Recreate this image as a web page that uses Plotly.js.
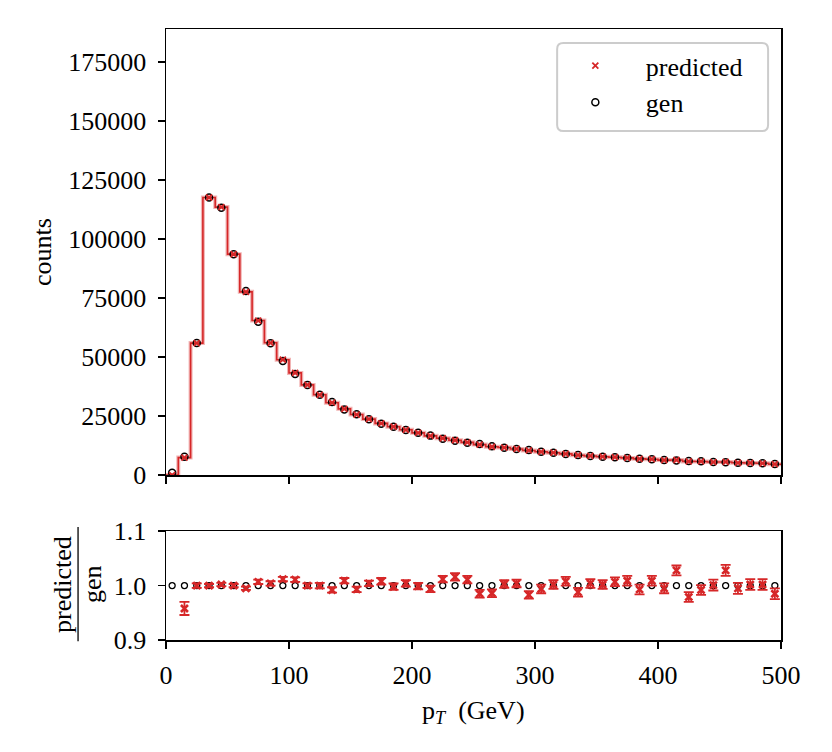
<!doctype html>
<html lang="en">
<head>
    <meta charset="UTF-8">
    <title>pT predicted vs gen</title>
    <script src="https://cdn.plot.ly/plotly-3.0.1.min.js"></script>
    <style>
        body { margin: 0; background: white; }
        #chart { width: 832px; height: 752px; }
    </style>
</head>
<body>
    <div id="chart"></div>
    <script>
        // bin layout: 10 GeV bins from 0 to 500
        var binWidth = 10;
        var nBins = 50;

        // gen counts per bin
        var gen = [1000, 7700, 55900, 117600, 113300, 93600, 78000, 65000, 55800, 48300,
                   42800, 38200, 34000, 30900, 27800, 25800, 23600, 21700, 20500, 19100,
                   17900, 16700, 15400, 14500, 13700, 13100, 12150, 11600, 11000, 10600,
                   9900, 9450, 8900, 8500, 8050, 7750, 7500, 7200, 6900, 6650,
                   6350, 6200, 5900, 5800, 5500, 5400, 5200, 5100, 4950, 4650];

        // predicted / gen per bin (first bin is off the scale)
        var ratio = [null, 0.958, 1.000, 1.000, 1.002, 1.000, 0.995, 1.007, 1.004, 1.012,
                     1.011, 1.000, 1.000, 0.992, 1.009, 0.993, 1.004, 1.008, 0.998, 1.004,
                     0.999, 0.994, 1.012, 1.016, 1.011, 0.985, 0.986, 1.003, 1.004, 0.983,
                     0.994, 1.002, 1.008, 0.988, 1.004, 1.002, 1.007, 1.009, 0.993, 1.009,
                     0.995, 1.028, 0.979, 0.992, 1.001, 1.028, 0.995, 1.002, 1.002, 0.985];

        var ratioErr = [0, 0.012, 0.004, 0.003, 0.003, 0.003, 0.003, 0.004, 0.004, 0.004,
                        0.004, 0.004, 0.005, 0.005, 0.005, 0.005, 0.005, 0.006, 0.006, 0.006,
                        0.006, 0.006, 0.006, 0.007, 0.007, 0.007, 0.007, 0.007, 0.007, 0.007,
                        0.008, 0.008, 0.008, 0.008, 0.008, 0.008, 0.008, 0.009, 0.009, 0.009,
                        0.009, 0.009, 0.009, 0.009, 0.010, 0.010, 0.010, 0.010, 0.010, 0.010];

        var red = '#d62728';
        var font = 'Liberation Serif, Times New Roman, serif';

        // centres and edges
        var centers = [], edges = [];
        for (var i = 0; i < nBins; i++) centers.push(i * binWidth + binWidth / 2);
        for (var i = 0; i <= nBins; i++) edges.push(i * binWidth);

        // predicted counts from gen and ratio
        var predicted = gen.map(function (g, i) { return ratio[i] === null ? 0 : g * ratio[i]; });
        var stepY = predicted.concat([predicted[nBins - 1]]);

        var traces = [
            {
                x: edges, y: stepY, type: 'scatter', mode: 'lines',
                line: { shape: 'hv', color: 'rgba(214,39,40,0.35)', width: 4 },
                xaxis: 'x', yaxis: 'y', showlegend: false, hoverinfo: 'skip'
            },
            {
                x: edges, y: stepY, type: 'scatter', mode: 'lines',
                line: { shape: 'hv', color: red, width: 1.6 },
                xaxis: 'x', yaxis: 'y', showlegend: false, hoverinfo: 'skip'
            },
            {
                x: centers, y: gen, type: 'scatter', mode: 'markers', name: 'gen',
                marker: { symbol: 'circle-open', size: 7, color: 'black', line: { width: 1.5 } },
                xaxis: 'x', yaxis: 'y', legendrank: 2
            },
            {
                x: centers, y: predicted, type: 'scatter', mode: 'markers', name: 'predicted',
                marker: { symbol: 'x-thin-open', size: 6, color: red, line: { width: 1.8, color: red } },
                xaxis: 'x', yaxis: 'y', legendrank: 1
            },
            {
                x: centers, y: gen.map(function () { return 1; }), type: 'scatter', mode: 'markers',
                marker: { symbol: 'circle-open', size: 6, color: 'black', line: { width: 1.3 } },
                xaxis: 'x2', yaxis: 'y2', showlegend: false
            },
            {
                x: centers, y: ratio, type: 'scatter', mode: 'markers',
                marker: { symbol: 'x-thin-open', size: 7, color: red, line: { width: 2.6, color: red } },
                error_y: { type: 'data', array: ratioErr, visible: true, color: red, thickness: 1.8, width: 5 },
                xaxis: 'x2', yaxis: 'y2', showlegend: false
            }
        ];

        var axisCommon = {
            showline: true, linecolor: 'black', linewidth: 1.5, mirror: true,
            ticks: 'outside', ticklen: 7, tickwidth: 1.5, tickcolor: 'black',
            showgrid: false, zeroline: false,
            tickfont: { family: font, size: 26, color: 'black' }
        };

        var layout = {
            width: 832, height: 752,
            margin: { l: 166, r: 51, t: 29, b: 112 },
            paper_bgcolor: 'white', plot_bgcolor: 'white',
            font: { family: font, size: 26, color: 'black' },
            xaxis: Object.assign({}, axisCommon, {
                range: [0, 500], dtick: 100, showticklabels: false, anchor: 'y'
            }),
            yaxis: Object.assign({}, axisCommon, {
                domain: [0.27, 1], range: [0, 189000], dtick: 25000, tickformat: 'd',
                ticklabelstandoff: 6, anchor: 'x'
            }),
            xaxis2: Object.assign({}, axisCommon, {
                range: [0, 500], dtick: 100, anchor: 'y2', ticklabelstandoff: 4
            }),
            yaxis2: Object.assign({}, axisCommon, {
                domain: [0, 0.178], range: [0.9, 1.1], tickvals: [0.9, 1.0, 1.1], tickformat: '.1f',
                ticklabelstandoff: 6, anchor: 'x2'
            }),
            showlegend: true,
            legend: {
                x: 0.616, y: 0.9785, xanchor: 'left', yanchor: 'top',
                bgcolor: 'rgba(0,0,0,0)', borderwidth: 0,
                font: { family: font, size: 26, color: 'black' },
                itemwidth: 91, tracegroupgap: 0
            },
            shapes: [
                {
                    // rounded legend frame
                    type: 'path', xref: 'paper', yref: 'paper',
                    path: 'M 0.646 0.977 L 0.969 0.977 Q 0.979 0.977 0.979 0.967 L 0.979 0.843 ' +
                          'Q 0.979 0.833 0.969 0.833 L 0.646 0.833 Q 0.636 0.833 0.636 0.843 ' +
                          'L 0.636 0.967 Q 0.636 0.977 0.646 0.977 Z',
                    line: { color: '#cccccc', width: 2 }, fillcolor: 'rgba(255,255,255,0.8)', layer: 'below'
                },
                {
                    // fraction bar of the ratio label
                    type: 'line', xref: 'paper', yref: 'paper',
                    x0: -0.143, x1: -0.143, y0: -0.002, y1: 0.185,
                    line: { color: 'black', width: 1.3 }
                }
            ],
            annotations: [
                {
                    text: 'counts', xref: 'paper', yref: 'paper', x: -0.2016, y: 0.635,
                    textangle: -90, showarrow: false, xanchor: 'center', yanchor: 'middle',
                    font: { family: font, size: 26 }
                },
                {
                    text: 'predicted', xref: 'paper', yref: 'paper', x: -0.1675, y: 0.0917,
                    textangle: -90, showarrow: false, xanchor: 'center', yanchor: 'middle',
                    font: { family: font, size: 26 }
                },
                {
                    text: 'gen', xref: 'paper', yref: 'paper', x: -0.1187, y: 0.0917,
                    textangle: -90, showarrow: false, xanchor: 'center', yanchor: 'middle',
                    font: { family: font, size: 26 }
                },
                {
                    text: 'p<sub><i>T</i></sub>&nbsp;&nbsp;(GeV)', xref: 'paper', yref: 'paper', x: 0.5, y: -0.118,
                    showarrow: false, xanchor: 'center', yanchor: 'middle',
                    font: { family: font, size: 26 }
                }
            ]
        };

        Plotly.newPlot('chart', traces, layout, { displayModeBar: false, staticPlot: true });
    </script>
</body>
</html>
